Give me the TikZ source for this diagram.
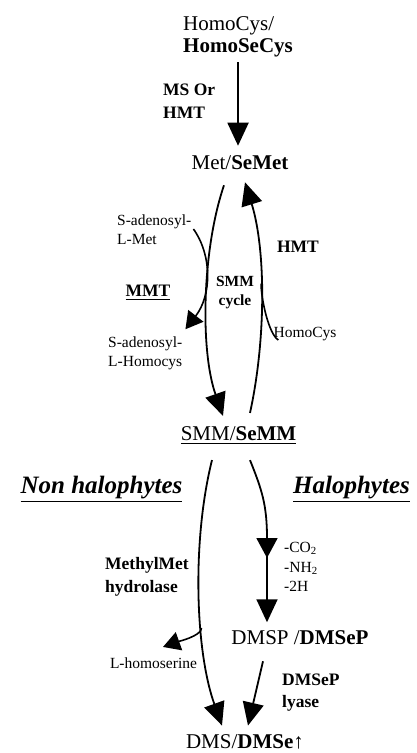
\documentclass[tikz,border=0pt]{standalone}
\usepackage{fontspec}
\setmainfont{Liberation Serif}
\usepackage{tikz}
\usetikzlibrary{arrows.meta, positioning, calc}

\newcommand{\ulbox}[2][1.2pt]{\vtop{\hbox{#2}\kern2.5pt\hrule height #1}}

\begin{document}
\begin{tikzpicture}[x=1pt, y=-1pt,
        chem/.style={inner sep=0pt, font=\fontsize{21}{22}\selectfont},
        sub/.style={inner sep=0pt, align=left, font=\fontsize{15.5}{19}\selectfont},
        enzyme/.style={inner sep=0pt, align=left, font=\fontsize{17.5}{23}\selectfont\bfseries},
        group/.style={inner sep=0pt, font=\fontsize{25}{28}\selectfont\bfseries\itshape},
        arrow/.style={-{Triangle[length=23pt, width=21pt]}, line width=1.8pt},
        side/.style={-{Triangle[length=17pt, width=19pt]}, line width=1.6pt}
    ]
    \useasboundingbox (0,0) rectangle (416,753);

    % Compounds
    \node[chem, align=left, anchor=west] (homocys) at (183,37) {HomoCys/\\\textbf{HomoSeCys}};
    \node[chem] (met) at (240,163) {Met/\textbf{SeMet}};
    \node[chem, anchor=base] (smm) at (238.5,440) {\ulbox{SMM/\textbf{SeMM}}};
    \node[chem] (dmsp) at (300,638) {DMSP /\textbf{DMSeP}};
    \node[chem] (dms) at (245,742) {DMS/\textbf{DMSe}↑};

    % Side products
    \node[sub, anchor=west] (samet) at (117,230) {S-adenosyl-\\L-Met};
    \node[sub, anchor=west] (sahcy) at (108,353) {S-adenosyl-\\L-Homocys};
    \node[sub] (hcys) at (305,334) {HomoCys};
    \node[sub] (lhser) at (153.5,663) {L-homoserine};
    \node[sub, anchor=west, font=\fontsize{15.5}{19.5}\selectfont] (loss) at (284,567) {-CO\textsubscript{2}\\-NH\textsubscript{2}\\-2H};

    % Enzymes
    \node[enzyme, anchor=west] (ms) at (163,101.5) {MS Or\\HMT};
    \node[enzyme, anchor=base] (mmt) at (148,296) {\ulbox[1pt]{MMT}};
    \node[enzyme, align=center, font=\fontsize{15.5}{19}\selectfont\bfseries] (cycle) at (235,293) {SMM\\cycle};
    \node[enzyme] (hmt) at (298,247) {HMT};
    \node[enzyme, anchor=west] (hydro) at (105,577) {MethylMet\\hydrolase};
    \node[enzyme, anchor=west, font=\fontsize{17.5}{22}\selectfont\bfseries] (lyase) at (282,693) {DMSeP\\lyase};

    % Plant groups
    \node[group, anchor=base] (nonhalo) at (101.5,493) {\ulbox{Non halophytes}};
    \node[group, anchor=base] (halo) at (351.5,493) {\ulbox{Halophytes}};

    % Arrows
    \draw[arrow] ([yshift=-5pt]homocys.south) -- ([yshift=10pt]homocys.south |- met.north);

    % SMM cycle
    \draw[arrow] ([shift={(-16pt,-15pt)}]met.south) .. controls (202,250) and (200,350) .. ([shift={(-15.5pt,10pt)}]smm.north);
    \draw[arrow] ([shift={(11.5pt,13pt)}]smm.north) .. controls (266,340) and (266,250) .. node[pos=0.55, coordinate] (hmtjoin) {} ([shift={(5pt,-12pt)}]met.south);
    \draw[line width=1.6pt] ([shift={(5pt,-13pt)}]hcys.north west) .. controls +(-10,-6) and +(0,14) .. (hmtjoin);
    \draw[side] ([shift={(2pt,1pt)}]samet.east) .. controls (212,255) and (212,295) .. ([shift={(3pt,7pt)}]sahcy.north east);

    % Non halophytes
    \draw[arrow] ([shift={(-26.5pt,-16pt)}]smm.south) .. controls (192,540) and (195,650) .. node[pos=0.62, coordinate] (hsbranch) {} ([shift={(-23pt,9pt)}]dms.north);
    \draw[side] (hsbranch) .. controls +(0,8) and +(14,-5) .. ([shift={(9.5pt,10.4pt)}]lhser.north);

    % Halophytes
    \coordinate (midtip) at (267,558);
    \draw[line width=1.8pt, -{Triangle[length=20pt, width=21pt]}] ([shift={(11.5pt,-16pt)}]smm.south) .. controls (262,490) and (267,505) .. (midtip);
    \draw[arrow] ([yshift=3pt]midtip) -- ([yshift=8.5pt]midtip |- dmsp.north);
    \draw[arrow] ([shift={(-37pt,-16pt)}]dmsp.south) -- ([shift={(3pt,9pt)}]dms.north);

\end{tikzpicture}
\end{document}
